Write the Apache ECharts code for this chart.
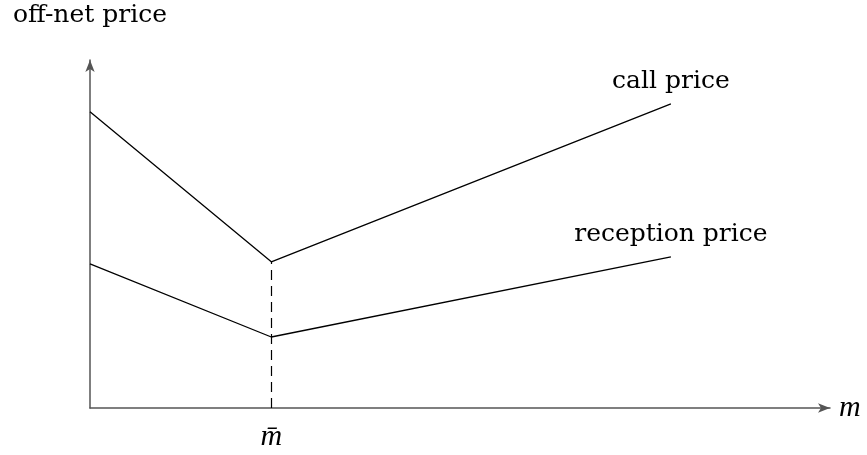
<!DOCTYPE html>
<html>
<head>
<meta charset="utf-8">
<script src="https://cdn.jsdelivr.net/npm/echarts@6/dist/echarts.min.js"></script>
<style>
  html, body { margin: 0; padding: 0; background: #fff; }
  #chart { width: 867px; height: 455px; }
</style>
</head>
<body>
<div id="chart"></div>
<script>
// x positions (m) and price levels
const mValues = [0, 2.45, 7.85];
const mBar = 2.45;
const callPrice = [8.51, 4.2, 8.74];
const receptionPrice = [4.14, 2.04, 4.34];
const seriesNames = ['call price', 'reception price'];

const chart = echarts.init(document.getElementById('chart'));

const serif = 'DejaVu Serif';
const italic = 'Liberation Serif';

// only label the last point of each line
const lastLabel = (name) => ({
    show: true,
    position: 'top',
    distance: 10,
    color: '#000',
    fontFamily: serif,
    fontSize: 25,
    formatter: (p) => (p.dataIndex === mValues.length - 1 ? name : '')
});

const options = {
    animation: false,
    grid: { left: 90, right: 37, top: 60, bottom: 47 },
    xAxis: {
        type: 'value',
        min: 0,
        max: 10,
        name: 'm',
        nameGap: 9,
        nameTextStyle: { fontFamily: italic, fontStyle: 'italic', fontSize: 30, color: '#000', verticalAlign: 'middle' },
        axisLine: { lineStyle: { color: '#555', width: 1.5 }, symbol: ['none', 'arrow'], symbolSize: [7, 12] },
        axisTick: { show: false },
        splitLine: { show: false },
        axisLabel: {
            customValues: [mBar],
            formatter: () => 'm\u0304',
            fontFamily: italic,
            fontStyle: 'italic',
            fontSize: 30,
            color: '#000',
            margin: 14
        }
    },
    yAxis: {
        type: 'value',
        min: 0,
        max: 10,
        name: 'off-net price',
        nameGap: 32,
        nameTextStyle: { fontFamily: serif, fontSize: 25, color: '#000', align: 'center' },
        axisLine: { lineStyle: { color: '#555', width: 1.5 }, symbol: ['none', 'arrow'], symbolSize: [7, 12] },
        axisTick: { show: false },
        axisLabel: { show: false },
        splitLine: { show: false }
    },
    series: [
        {
            name: seriesNames[0],
            type: 'line',
            data: mValues.map((m, i) => [m, callPrice[i]]),
            symbol: 'circle',
            symbolSize: 0,
            showSymbol: true,
            lineStyle: { color: '#000', width: 1.3 },
            label: lastLabel(seriesNames[0]),
            markLine: {
                silent: true,
                symbol: 'none',
                label: { show: false },
                lineStyle: { color: '#000', type: [10, 6], width: 1.2 },
                data: [[{ coord: [mBar, 0] }, { coord: [mBar, callPrice[1]] }]]
            }
        },
        {
            name: seriesNames[1],
            type: 'line',
            data: mValues.map((m, i) => [m, receptionPrice[i]]),
            symbol: 'circle',
            symbolSize: 0,
            showSymbol: true,
            lineStyle: { color: '#000', width: 1.3 },
            label: lastLabel(seriesNames[1])
        }
    ]
};

chart.setOption(options);
</script>
</body>
</html>
